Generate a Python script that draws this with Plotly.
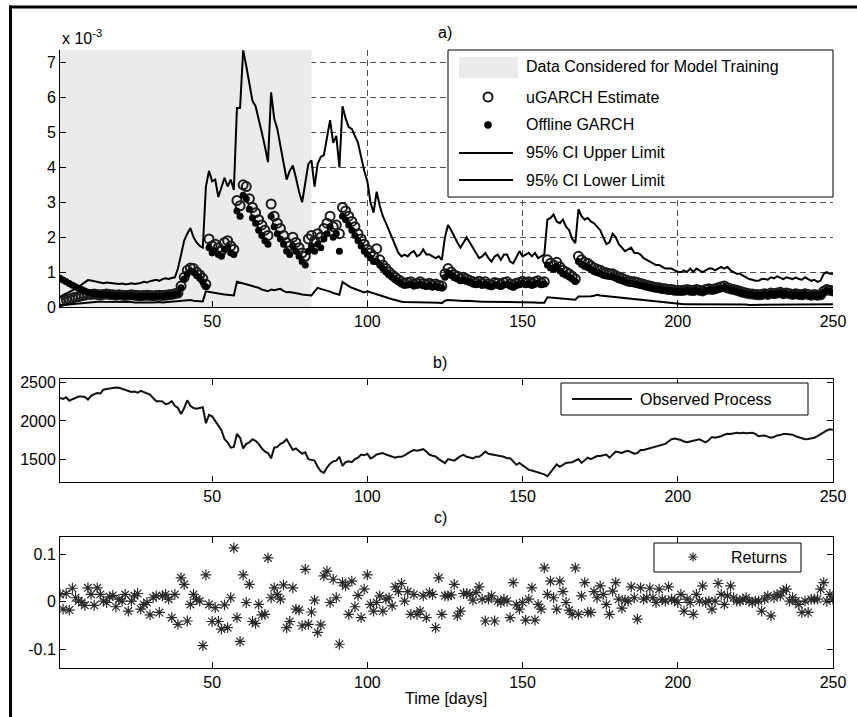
import plotly.graph_objects as go

# ---------------- data ----------------
train_start = 1
train_end = 82
var_range = [0, 7.36]

ci_upper = [
    0.30, 0.34, 0.38, 0.42, 0.47, 0.52, 0.58, 0.64, 0.72, 0.77,
    0.76, 0.74, 0.72, 0.70, 0.68, 0.70, 0.69, 0.67, 0.68, 0.66,
    0.67, 0.65, 0.66, 0.68, 0.66, 0.67, 0.69, 0.72, 0.70, 0.74,
    0.76, 0.78, 0.75, 0.80, 0.82, 0.80, 0.83, 0.85, 1.10, 1.55,
    1.90, 2.10, 2.26, 2.00, 1.85, 1.75, 1.70, 3.45, 3.90, 3.60,
    3.65, 3.15, 3.40, 3.70, 3.45, 3.65, 3.35, 5.70, 5.70, 7.35,
    6.90, 6.40, 5.90, 5.75, 5.40, 5.00, 4.60, 4.15, 6.15, 5.40,
    5.10, 4.60, 4.10, 3.65, 3.90, 4.05, 3.70, 3.30, 3.00, 3.60,
    4.10, 4.20, 3.45, 4.10, 4.30, 4.35, 4.80, 5.35, 4.70, 4.90,
    4.00, 5.75, 5.40, 5.15, 5.10, 4.90, 4.70, 4.30, 3.90, 3.60,
    3.00, 2.70, 3.30, 2.90, 2.60, 2.40, 2.20, 2.00, 1.80, 1.55,
    1.45, 1.50, 1.45, 1.55, 1.60, 1.45, 1.50, 1.65, 1.50, 1.50,
    1.45, 1.40, 1.45, 1.35, 2.00, 2.35, 2.20, 2.00, 1.85, 1.70,
    1.85, 2.00, 1.85, 1.70, 1.55, 1.40, 1.45, 1.55, 1.40, 1.30,
    1.45, 1.50, 1.35, 1.50, 1.50, 1.30, 1.25, 1.45, 1.60, 1.45,
    1.50, 1.55, 1.45, 1.55, 1.40, 1.45, 1.50, 2.50, 2.55, 2.65,
    2.45, 2.40, 2.50, 2.30, 2.20, 1.95, 1.83, 2.80, 2.60, 2.50,
    2.55, 2.45, 2.40, 2.30, 2.20, 2.00, 1.80, 1.85, 2.10, 2.00,
    1.80, 1.70, 1.60, 1.65, 1.70, 1.55, 1.55, 1.50, 1.40, 1.35,
    1.30, 1.25, 1.20, 1.20, 1.15, 1.10, 1.10, 1.10, 1.05, 1.00,
    1.00, 1.05, 1.00, 1.10, 1.00, 1.10, 1.05, 1.00, 1.05, 1.10,
    1.10, 1.05, 1.10, 1.15, 1.10, 1.15, 1.05, 1.00, 0.95, 0.95,
    0.90, 0.85, 0.80, 0.78, 0.75, 0.75, 0.80, 0.80, 0.78, 0.85,
    0.82, 0.88, 0.85, 0.80, 0.85, 0.82, 0.80, 0.85, 0.80, 0.78,
    0.85, 0.80, 0.75, 0.78, 0.72, 0.75, 0.95, 1.00, 0.95, 0.95,
]

ci_lower = [
    0.05, 0.06, 0.07, 0.08, 0.09, 0.10, 0.11, 0.12, 0.13, 0.14,
    0.14, 0.15, 0.15, 0.16, 0.15, 0.15, 0.16, 0.15, 0.15, 0.14,
    0.14, 0.15, 0.14, 0.14, 0.13, 0.14, 0.13, 0.13, 0.14, 0.13,
    0.13, 0.14, 0.14, 0.13, 0.14, 0.15, 0.15, 0.16, 0.16, 0.17,
    0.18, 0.20, 0.20, 0.18, 0.17, 0.17, 0.16, 0.45, 0.43, 0.42,
    0.40, 0.38, 0.37, 0.36, 0.35, 0.34, 0.33, 0.72, 0.70, 0.68,
    0.66, 0.62, 0.60, 0.57, 0.55, 0.50, 0.48, 0.45, 0.50, 0.48,
    0.50, 0.52, 0.46, 0.42, 0.43, 0.42, 0.40, 0.38, 0.36, 0.35,
    0.34, 0.33, 0.45, 0.55, 0.52, 0.50, 0.46, 0.44, 0.40, 0.38,
    0.35, 0.72, 0.65, 0.60, 0.55, 0.52, 0.48, 0.45, 0.42, 0.45,
    0.42, 0.38, 0.36, 0.33, 0.30, 0.27, 0.25, 0.22, 0.20, 0.17,
    0.15, 0.14, 0.14, 0.13, 0.13, 0.12, 0.12, 0.12, 0.12, 0.12,
    0.12, 0.12, 0.12, 0.11, 0.18, 0.20, 0.19, 0.18, 0.18, 0.17,
    0.17, 0.18, 0.17, 0.17, 0.16, 0.16, 0.15, 0.15, 0.15, 0.14,
    0.15, 0.15, 0.14, 0.14, 0.14, 0.13, 0.13, 0.14, 0.14, 0.13,
    0.13, 0.13, 0.13, 0.13, 0.12, 0.12, 0.12, 0.28, 0.27, 0.27,
    0.26, 0.25, 0.25, 0.24, 0.23, 0.22, 0.21, 0.30, 0.30, 0.29,
    0.30, 0.31, 0.32, 0.35, 0.33, 0.32, 0.31, 0.30, 0.29, 0.28,
    0.28, 0.27, 0.26, 0.25, 0.24, 0.23, 0.22, 0.20, 0.19, 0.18,
    0.17, 0.16, 0.15, 0.14, 0.13, 0.12, 0.11, 0.10, 0.09, 0.08,
    0.08, 0.08, 0.08, 0.08, 0.07, 0.08, 0.08, 0.07, 0.08, 0.08,
    0.08, 0.08, 0.09, 0.09, 0.09, 0.09, 0.08, 0.08, 0.08, 0.07,
    0.07, 0.07, 0.06, 0.06, 0.06, 0.06, 0.06, 0.06, 0.06, 0.07,
    0.07, 0.07, 0.07, 0.06, 0.07, 0.07, 0.06, 0.07, 0.06, 0.06,
    0.06, 0.06, 0.06, 0.06, 0.06, 0.06, 0.07, 0.08, 0.08, 0.08,
]

ugarch_estimate = [
    0.15, 0.18, 0.20, 0.23, 0.26, 0.28, 0.30, 0.32, 0.34, 0.36,
    0.36, 0.37, 0.36, 0.35, 0.36, 0.37, 0.36, 0.35, 0.34, 0.35,
    0.34, 0.33, 0.34, 0.35, 0.34, 0.33, 0.32, 0.33, 0.34, 0.33,
    0.32, 0.33, 0.34, 0.33, 0.34, 0.35, 0.36, 0.38, 0.40, 0.60,
    0.85, 1.05, 1.12, 1.10, 1.00, 0.92, 0.82, 0.65, 1.95, 1.75,
    1.80, 1.70, 1.60, 1.85, 1.90, 1.75, 1.65, 3.05, 2.90, 3.50,
    3.45, 3.10, 2.85, 2.70, 2.50, 2.35, 2.20, 2.05, 2.95, 2.60,
    2.40, 2.25, 2.05, 1.85, 1.75, 2.00, 1.85, 1.70, 1.55, 1.45,
    1.95, 2.05, 1.90, 2.10, 2.00, 2.25, 2.40, 2.60, 2.30, 2.35,
    2.10, 2.85, 2.75, 2.60, 2.45, 2.30, 2.10, 1.95, 1.80, 1.65,
    1.55, 1.45, 1.67, 1.35, 1.20, 1.10, 1.00, 0.92, 0.85, 0.78,
    0.72, 0.68, 0.70, 0.72, 0.66, 0.68, 0.72, 0.67, 0.65, 0.68,
    0.63, 0.66, 0.62, 0.60, 0.95, 1.10, 1.00, 0.92, 0.88, 0.82,
    0.85, 0.80, 0.76, 0.72, 0.70, 0.74, 0.68, 0.72, 0.66, 0.64,
    0.70, 0.68, 0.65, 0.70, 0.72, 0.66, 0.62, 0.68, 0.70, 0.74,
    0.70, 0.72, 0.68, 0.72, 0.75, 0.70, 0.72, 1.35, 1.25, 1.20,
    1.28, 1.15, 1.05, 1.00, 0.95, 0.88, 0.80, 1.45, 1.35, 1.28,
    1.25, 1.18, 1.12, 1.08, 1.05, 1.00, 0.98, 0.95, 0.95, 0.90,
    0.85, 0.82, 0.78, 0.75, 0.73, 0.72, 0.70, 0.67, 0.65, 0.62,
    0.60, 0.58, 0.56, 0.55, 0.53, 0.52, 0.50, 0.50, 0.48, 0.48,
    0.47, 0.48, 0.50, 0.48, 0.47, 0.50, 0.48, 0.46, 0.50, 0.52,
    0.50, 0.52, 0.55, 0.58, 0.60, 0.55, 0.52, 0.50, 0.48, 0.45,
    0.42, 0.40, 0.38, 0.37, 0.36, 0.35, 0.36, 0.38, 0.36, 0.40,
    0.38, 0.40, 0.42, 0.38, 0.40, 0.38, 0.36, 0.38, 0.36, 0.35,
    0.38, 0.36, 0.34, 0.36, 0.34, 0.35, 0.45, 0.50, 0.48, 0.46,
]

offline_garch = [
    0.82, 0.77, 0.72, 0.67, 0.62, 0.58, 0.54, 0.50, 0.46, 0.42,
    0.40, 0.38, 0.37, 0.36, 0.36, 0.35, 0.35, 0.34, 0.33, 0.34,
    0.33, 0.32, 0.33, 0.32, 0.32, 0.31, 0.30, 0.31, 0.32, 0.31,
    0.30, 0.31, 0.32, 0.31, 0.32, 0.33, 0.34, 0.36, 0.38, 0.55,
    0.80, 0.95, 1.02, 1.00, 0.90, 0.82, 0.72, 0.58, 1.70, 1.55,
    1.60, 1.50, 1.45, 1.65, 1.70, 1.55, 1.50, 2.75, 2.60, 3.20,
    3.10, 2.80, 2.55, 2.40, 2.20, 2.05, 1.90, 1.80, 2.60, 2.30,
    2.10, 1.95, 1.80, 1.60, 1.50, 1.75, 1.60, 1.45, 1.30, 1.20,
    1.60, 1.75, 1.60, 1.80, 1.70, 1.95, 2.10, 2.30, 2.00, 2.10,
    1.60, 2.60, 2.50, 2.35, 2.20, 2.05, 1.90, 1.75, 1.60, 1.50,
    1.40, 1.30, 1.30, 1.20, 1.10, 1.00, 0.92, 0.85, 0.78, 0.72,
    0.66, 0.62, 0.63, 0.65, 0.60, 0.62, 0.65, 0.61, 0.59, 0.61,
    0.57, 0.60, 0.56, 0.55, 0.85, 0.98, 0.90, 0.84, 0.80, 0.75,
    0.77, 0.73, 0.70, 0.66, 0.64, 0.67, 0.62, 0.65, 0.60, 0.58,
    0.63, 0.62, 0.59, 0.63, 0.65, 0.60, 0.57, 0.62, 0.64, 0.67,
    0.64, 0.66, 0.62, 0.65, 0.68, 0.64, 0.66, 1.20, 1.12, 1.08,
    1.15, 1.04, 0.95, 0.91, 0.86, 0.80, 0.73, 1.30, 1.22, 1.16,
    1.13, 1.07, 1.02, 0.98, 0.95, 0.91, 0.89, 0.87, 0.86, 0.82,
    0.78, 0.75, 0.72, 0.69, 0.67, 0.66, 0.64, 0.62, 0.60, 0.57,
    0.56, 0.54, 0.52, 0.51, 0.49, 0.48, 0.47, 0.46, 0.45, 0.45,
    0.44, 0.45, 0.47, 0.45, 0.44, 0.47, 0.45, 0.43, 0.47, 0.49,
    0.47, 0.49, 0.52, 0.54, 0.56, 0.52, 0.49, 0.47, 0.45, 0.42,
    0.40, 0.38, 0.36, 0.35, 0.34, 0.33, 0.34, 0.36, 0.34, 0.38,
    0.36, 0.38, 0.40, 0.36, 0.38, 0.36, 0.34, 0.36, 0.34, 0.33,
    0.36, 0.34, 0.32, 0.34, 0.32, 0.33, 0.42, 0.47, 0.45, 0.43,
]

observed_process = [
    2303, 2290, 2310, 2265, 2285, 2300, 2320, 2320, 2315, 2280,
    2330, 2350, 2365, 2360, 2410, 2420, 2425, 2430, 2440, 2435,
    2420, 2400, 2385, 2380, 2385, 2370, 2395, 2380, 2370, 2345,
    2300, 2260, 2260, 2255, 2220, 2230, 2260, 2200, 2170, 2090,
    2170, 2270, 2200, 2170, 2160, 2165, 2180, 1970, 2080, 2060,
    2000, 1950, 1880, 1760, 1720, 1650, 1660, 1830, 1780, 1640,
    1700, 1720, 1760, 1740, 1700, 1640, 1600, 1580, 1510, 1650,
    1660, 1700, 1720, 1760, 1680, 1620, 1640, 1600, 1570, 1590,
    1500, 1490, 1480, 1400, 1340, 1320, 1390, 1440, 1470, 1480,
    1530, 1410, 1460, 1470, 1460, 1500, 1520, 1560, 1550, 1570,
    1510, 1530, 1560, 1570, 1580, 1560, 1550, 1540, 1520, 1530,
    1530, 1550, 1580, 1600, 1620, 1610, 1620, 1630, 1600, 1560,
    1545, 1534, 1500, 1470, 1447, 1500, 1490, 1480, 1510, 1540,
    1556, 1530, 1520, 1510, 1530, 1530, 1560, 1600, 1570, 1560,
    1560, 1550, 1540, 1530, 1510, 1510, 1470, 1425, 1450, 1420,
    1380, 1359, 1350, 1337, 1330, 1320, 1300, 1275, 1330, 1390,
    1430, 1400, 1420, 1450, 1455, 1460, 1480, 1500, 1450, 1490,
    1520, 1500, 1520, 1540, 1540, 1550, 1560, 1520, 1560, 1600,
    1590, 1580, 1600, 1610, 1590, 1570, 1580, 1620, 1620, 1630,
    1640, 1650, 1660, 1680, 1690, 1700, 1730, 1760, 1770, 1760,
    1750, 1730, 1720, 1730, 1740, 1750, 1760, 1740, 1720, 1750,
    1790, 1780, 1790, 1800, 1820, 1833, 1830, 1840, 1845, 1840,
    1845, 1840, 1840, 1845, 1830, 1800, 1805, 1810, 1795, 1780,
    1790, 1810, 1815, 1830, 1830, 1825, 1820, 1800, 1790, 1770,
    1760, 1765, 1770, 1780, 1800, 1820, 1850, 1875, 1890, 1885,
]

returns = [
    0.015, -0.016, 0.017, -0.018, 0.028, 0.008, 0.001, -0.002, -0.008, 0.029,
    0.015, -0.008, 0.029, 0.015, 0.001, -0.002, 0.010, 0.013, -0.011, 0.005,
    0.001, 0.015, -0.020, 0.001, 0.012, 0.017, -0.016, -0.006, -0.002, -0.028,
    0.008, 0.012, -0.023, 0.012, 0.015, 0.005, -0.034, 0.015, -0.048, 0.050,
    0.036, -0.041, -0.006, 0.015, 0.005, 0.001, -0.093, 0.056, -0.006, -0.042,
    -0.013, -0.042, -0.058, -0.007, -0.055, 0.008, 0.113, -0.034, -0.084, 0.056,
    -0.002, 0.036, -0.042, -0.046, -0.006, -0.028, -0.027, 0.092, 0.008, 0.029,
    0.015, 0.005, 0.035, -0.055, -0.042, 0.029, -0.016, -0.018, -0.051, 0.068,
    -0.048, -0.022, 0.003, -0.065, -0.049, 0.054, 0.064, -0.002, 0.047, 0.008,
    -0.090, 0.040, 0.033, -0.027, 0.043, -0.011, 0.013, -0.034, 0.026, 0.056,
    -0.006, -0.020, -0.002, 0.012, -0.020, 0.005, 0.008, -0.009, 0.031, 0.021,
    0.038, 0.001, 0.021, -0.027, 0.015, -0.027, -0.020, 0.012, -0.034, 0.019,
    0.015, -0.055, 0.050, -0.027, 0.012, 0.012, 0.014, 0.036, -0.030, -0.020,
    0.017, 0.017, 0.015, 0.003, 0.019, 0.031, 0.005, -0.041, 0.005, 0.012,
    -0.041, 0.001, -0.002, 0.005, 0.001, -0.034, 0.040, -0.007, -0.016, -0.002,
    -0.039, 0.005, 0.029, -0.039, -0.006, -0.016, 0.071, 0.015, 0.043, 0.008,
    -0.016, 0.043, 0.021, -0.002, -0.018, -0.027, 0.071, -0.027, 0.012, 0.040,
    -0.023, -0.023, 0.021, 0.008, 0.033, 0.015, -0.006, -0.027, 0.022, 0.040,
    0.005, -0.014, 0.003, 0.001, 0.031, 0.008, -0.037, 0.029, 0.005, 0.008,
    0.028, 0.008, -0.002, 0.026, 0.005, 0.001, 0.031, 0.005, 0.003, -0.002,
    0.015, -0.020, 0.005, -0.002, -0.027, 0.015, 0.001, 0.033, -0.002, 0.001,
    -0.016, 0.001, 0.038, 0.015, -0.006, 0.012, 0.033, 0.008, 0.001, 0.001,
    0.005, 0.008, 0.001, -0.002, 0.001, 0.001, -0.020, 0.005, 0.012, -0.030,
    0.008, 0.015, 0.012, 0.022, 0.026, 0.001, 0.008, 0.001, -0.006, -0.023,
    0.001, -0.023, 0.005, 0.005, 0.005, 0.026, 0.040, 0.001, 0.015, 0.005,
]

x_ticks = [50, 100, 150, 200, 250]
var_ticks = [0, 1, 2, 3, 4, 5, 6, 7]
price_ticks = [1500, 2000, 2500]
ret_ticks = [-0.1, 0, 0.1]
ret_tick_text = ["-0.1", "0", "0.1"]


def days_for(series):
    return list(range(1, len(series) + 1))


# ---------------- geometry (screen pixels -> paper) ----------------
W, H = 857, 717
PLOT_L, PLOT_R, PLOT_T, PLOT_B = 60, 833, 50, 668
ML, MR, MT, MB = PLOT_L, W - PLOT_R, PLOT_T, H - PLOT_B
PW, PH = W - ML - MR, H - MT - MB


def px(x):
    return (x - ML) / PW


def py(y):
    return (H - MB - y) / PH


FONT = "Liberation Sans, Arial, sans-serif"
BLACK = "#000000"
SHADE = "#ebebeb"

fig = go.Figure()

# ---------------- panel a ----------------
fig.add_trace(go.Scatter(
    x=[train_start, train_end, train_end, train_start, train_start],
    y=[var_range[0], var_range[0], var_range[1], var_range[1], var_range[0]],
    mode="lines", fill="toself", fillcolor=SHADE, line=dict(width=0, color=SHADE),
    name="Data Considered for Model Training", showlegend=False,
    hoverinfo="skip", xaxis="x", yaxis="y"))
fig.add_trace(go.Scatter(
    x=days_for(ugarch_estimate), y=ugarch_estimate, mode="markers",
    name="uGARCH Estimate", showlegend=False,
    marker=dict(symbol="circle-open", size=9, color="#1c1c1c",
                line=dict(width=2, color="#1c1c1c")),
    xaxis="x", yaxis="y"))
fig.add_trace(go.Scatter(
    x=days_for(offline_garch), y=offline_garch, mode="markers",
    name="Offline GARCH", showlegend=False,
    marker=dict(symbol="circle", size=7, color="#000000"),
    xaxis="x", yaxis="y"))
fig.add_trace(go.Scatter(
    x=days_for(ci_upper), y=ci_upper, mode="lines",
    name="95% CI Upper Limit", showlegend=False,
    line=dict(color=BLACK, width=2), xaxis="x", yaxis="y"))
fig.add_trace(go.Scatter(
    x=days_for(ci_lower), y=ci_lower, mode="lines",
    name="95% CI Lower Limit", showlegend=False,
    line=dict(color=BLACK, width=2), xaxis="x", yaxis="y"))

# ---------------- panel b ----------------
fig.add_trace(go.Scatter(
    x=days_for(observed_process), y=observed_process, mode="lines",
    name="Observed Process", showlegend=False,
    line=dict(color="#111111", width=2), xaxis="x2", yaxis="y2"))

# ---------------- panel c ----------------
fig.add_trace(go.Scatter(
    x=days_for(returns), y=returns, mode="markers",
    name="Returns", showlegend=False,
    marker=dict(symbol="asterisk-open", size=9, color="#2a2a2a",
                line=dict(width=1.2, color="#2a2a2a")),
    xaxis="x3", yaxis="y3"))

tickfont = dict(family=FONT, size=16, color=BLACK)
common_x = dict(range=[1, 250], tickvals=x_ticks, ticks="inside", ticklen=6,
                tickcolor=BLACK, showline=True, linecolor=BLACK, linewidth=1,
                zeroline=False, tickfont=tickfont)
common_y = dict(ticks="inside", ticklen=6, tickcolor=BLACK, showline=True,
                linecolor=BLACK, linewidth=1, zeroline=False, tickfont=tickfont)
grid = dict(showgrid=True, gridcolor="#4d4d4d", gridwidth=1, griddash="6px,4px")

shapes = []


def box(x0, x1, y0, y1):
    return dict(type="rect", xref="paper", yref="paper", x0=px(x0), x1=px(x1),
                y0=py(y1), y1=py(y0), fillcolor="white",
                line=dict(color=BLACK, width=1), layer="above")


def hline(x0, x1, y, color=BLACK, width=2):
    return dict(type="line", xref="paper", yref="paper", x0=px(x0), x1=px(x1),
                y0=py(y), y1=py(y), line=dict(color=color, width=width), layer="above")


def circle(cx, cy, r, fill, lw, color="#1c1c1c"):
    return dict(type="circle", xref="paper", yref="paper",
                x0=px(cx - r), x1=px(cx + r), y0=py(cy + r), y1=py(cy - r),
                fillcolor=fill, line=dict(color=color, width=lw), layer="above")


def seg(cx, cy, dx0, dy0, dx1, dy1):
    return dict(type="line", xref="paper", yref="paper",
                x0=px(cx + dx0), x1=px(cx + dx1), y0=py(cy + dy0), y1=py(cy + dy1),
                line=dict(color="#2a2a2a", width=1.2), layer="above")


# legend a
shapes.append(box(448, 833, 50, 197))
shapes.append(dict(type="rect", xref="paper", yref="paper", x0=px(459), x1=px(518),
                   y0=py(78), y1=py(57), fillcolor=SHADE, line=dict(width=0),
                   layer="above"))
shapes.append(circle(488, 97, 4.5, "rgba(0,0,0,0)", 2))
shapes.append(circle(488, 125, 3.6, "#000000", 0.5, "#000000"))
shapes.append(hline(459, 513, 153))
shapes.append(hline(459, 513, 180))
# legend b
shapes.append(box(561, 808, 383, 415))
shapes.append(hline(572, 632, 399, "#111111"))
# legend c
shapes.append(box(654, 801, 543, 572))
shapes.append(seg(693, 557, -4.5, 0, 4.5, 0))
shapes.append(seg(693, 557, 0, -4.5, 0, 4.5))
shapes.append(seg(693, 557, -3.2, -3.2, 3.2, 3.2))
shapes.append(seg(693, 557, -3.2, 3.2, 3.2, -3.2))

# outer frame (left and top edges visible), kept inside the figure
frame = dict(color=BLACK, width=3)
shapes.append(dict(type="line", xref="paper", yref="paper", x0=px(10.5), x1=px(10.5),
                   y0=py(5.5), y1=py(717), line=frame, layer="above"))
shapes.append(dict(type="line", xref="paper", yref="paper", x0=px(9), x1=px(857),
                   y0=py(7), y1=py(7), line=frame, layer="above"))

lf = dict(family=FONT, size=16, color=BLACK)
tf = dict(family=FONT, size=16, color=BLACK)


def label(text, x, y, xanchor="left", font=lf):
    return dict(text=text, xref="paper", yref="paper", x=px(x), y=py(y),
                xanchor=xanchor, yanchor="middle", showarrow=False, font=font)


annotations = [
    label("Data Considered for Model Training", 524, 67),
    label("uGARCH Estimate", 524, 97),
    label("Offline GARCH", 524, 125),
    label("95% CI Upper Limit", 524, 153),
    label("95% CI Lower Limit", 524, 180),
    label("Observed Process", 638, 399),
    label("Returns", 729, 557),
    label("a)", 445, 32, "center", tf),
    label("b)", 440, 362, "center", tf),
    label("c)", 440, 517, "center", tf),
    label("Time [days]", 446, 699, "center", tf),
    label("x 10<sup>-3</sup>", 60, 37, "left", tf),
]

fig.update_layout(
    width=W, height=H,
    margin=dict(l=ML, r=MR, t=MT, b=MB, pad=0),
    paper_bgcolor="white", plot_bgcolor="rgba(0,0,0,0)",
    showlegend=False,
    font=dict(family=FONT, size=16, color=BLACK),
    xaxis=dict(**common_x, **grid, anchor="y", domain=[0, 1], mirror=False),
    yaxis=dict(**common_y, **grid, anchor="x", domain=[py(307), 1], range=var_range,
               tickvals=var_ticks, mirror=False),
    xaxis2=dict(**common_x, anchor="y2", domain=[0, 1], mirror="ticks", showgrid=False),
    yaxis2=dict(**common_y, anchor="x2", domain=[py(482), py(379)], range=[1200, 2550],
                tickvals=price_ticks, mirror="ticks", showgrid=False),
    xaxis3=dict(**common_x, anchor="y3", domain=[0, 1], mirror="ticks", showgrid=False),
    yaxis3=dict(**common_y, anchor="x3", domain=[0, py(537)], range=[-0.14, 0.136],
                tickvals=ret_ticks, ticktext=ret_tick_text, mirror="ticks", showgrid=False),
    shapes=shapes,
    annotations=annotations,
)

# remove the default page margin so the 857x717 figure fills the window exactly
fig.write_html(
    "out.html",
    config={"displayModeBar": False},
    post_script="document.body.style.margin='0';document.body.style.overflow='hidden';",
)
